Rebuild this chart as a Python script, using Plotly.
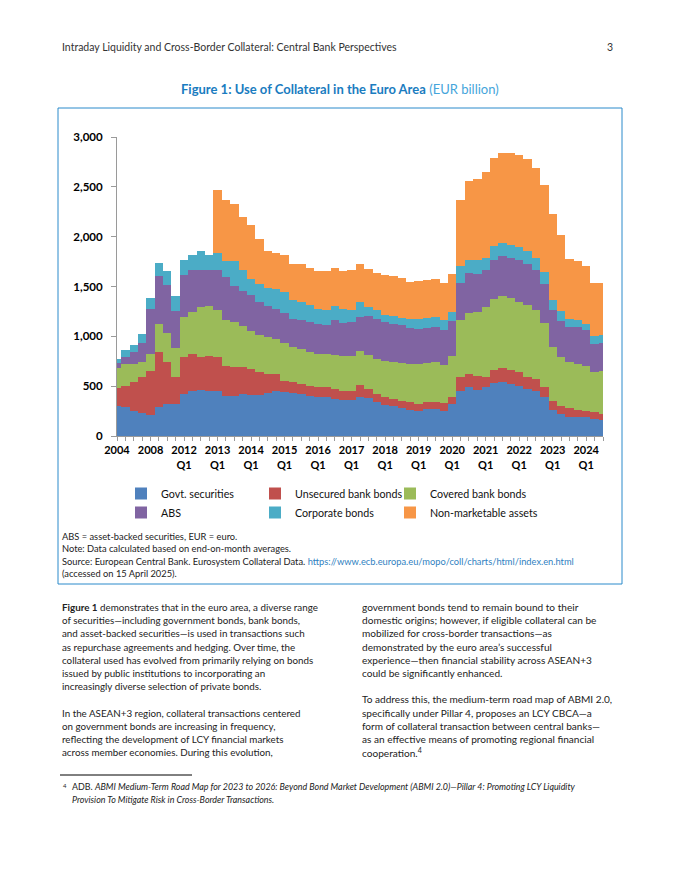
import plotly.graph_objects as go

# ---------------- data ----------------
categories = ["2004", "2005", "2006", "2007", "2008", "2009", "2010", "2011"] + [
    f"{y} Q{q}" for y in range(2012, 2025) for q in range(1, 5)
][:51]

govt = [300, 295, 255, 228, 214, 288, 322, 322,
        422, 456, 462, 456, 449, 399, 399, 422, 415, 412, 429, 449,
        439, 429, 422, 405, 389, 389, 372, 362, 362, 395, 382, 338,
        315, 305, 278, 261, 255, 271, 271, 255, 322, 456, 489, 462,
        489, 533, 539, 523, 506, 472, 449, 389, 261, 221, 194, 188,
        188, 171, 161]
unsecured = [178, 211, 285, 362, 436, 559, 425, 275,
             375, 369, 335, 342, 342, 308, 298, 268, 258, 228, 194, 174,
             117, 111, 101, 101, 101, 101, 101, 94, 94, 114, 90, 84,
             74, 67, 77, 77, 67, 67, 67, 74, 67, 134, 134, 144,
             107, 131, 141, 141, 134, 124, 124, 107, 94, 84, 87, 74,
             67, 67, 60]
covered = [208, 218, 184, 157, 174, 278, 285, 288,
           402, 419, 496, 503, 469, 459, 446, 409, 385, 375, 369, 352,
           375, 352, 352, 335, 335, 328, 335, 342, 342, 348, 345, 352,
           362, 369, 375, 385, 402, 395, 402, 379, 409, 570, 610, 637,
           697, 714, 720, 720, 704, 714, 687, 637, 536, 486, 459, 462,
           452, 402, 436]
abs_sec = [44, 67, 117, 188, 446, 476, 479, 365,
           412, 419, 369, 362, 402, 429, 362, 352, 358, 328, 308, 302,
           302, 285, 291, 302, 302, 291, 352, 335, 345, 342, 392, 402,
           392, 385, 379, 362, 352, 352, 358, 358, 355, 375, 402, 385,
           369, 385, 402, 402, 419, 419, 402, 395, 369, 362, 352, 369,
           352, 285, 275]
corporate = [44, 67, 74, 90, 114, 134, 141, 151,
             157, 157, 191, 151, 174, 157, 248, 211, 161, 184, 188, 201,
             211, 184, 178, 168, 151, 157, 141, 137, 117, 144, 90, 90,
             67, 74, 77, 90, 101, 101, 94, 94, 90, 168, 134, 141,
             124, 141, 134, 127, 134, 127, 127, 117, 101, 97, 84, 74,
             67, 74, 77]
non_marketable = [0, 0, 0, 0, 0, 0, 0, 0,
                  0, 0, 0, 0, 637, 613, 573, 536, 536, 446, 365, 358,
                  369, 362, 379, 379, 375, 385, 385, 385, 402, 379, 372, 372,
                  402, 402, 399, 375, 375, 375, 379, 375, 385, 663, 791, 814,
                  864, 881, 905, 928, 921, 921, 901, 871, 864, 764, 596, 586,
                  576, 536, 526]

series_names = ["Govt. securities", "Unsecured bank bonds", "Covered bank bonds",
                "ABS", "Corporate bonds", "Non-marketable assets"]
series_values = [govt, unsecured, covered, abs_sec, corporate, non_marketable]
series_colors = ["#4F81BD", "#C0504D", "#9BBB59", "#8064A2", "#4BACC6", "#F79646"]
# legend column of each series (3 columns x 2 rows, as in the reference)
series_legend = ["legend", "legend2", "legend3", "legend", "legend2", "legend3"]


def tick_label(c):
    if " " not in c:
        return c if c in ("2004", "2008") else " "
    y, q = c.split(" ")
    return f"{y}<br>{q}" if q == "Q1" else " "


tick_text = [tick_label(c) for c in categories]

# ---------------- layout geometry (page pixels) ----------------
W, H = 680, 880
OFF = 8                      # page body margin of the html page
L, R, T, B = 117, 603, 137, 436
FONT = "Lato"


def fx(x):
    return (x - L) / (R - L)


def fy(y):
    return (B - y) / (B - T)


fig = go.Figure()
for name, vals, col, lg in zip(series_names, series_values, series_colors, series_legend):
    fig.add_trace(go.Bar(x=categories, y=vals, name=name, legend=lg, legendgroup=name,
                         marker=dict(color=col, line=dict(width=0))))

legend_font = dict(family=FONT, size=10.7, color="#111111")
legend_common = dict(orientation="v", yanchor="top", xanchor="left", traceorder="normal",
                     font=legend_font, bgcolor="rgba(0,0,0,0)", tracegroupgap=6)
fig.update_layout(
    width=W, height=H,
    margin=dict(l=L - OFF, r=W - R + OFF, t=T - OFF, b=H - B + OFF, autoexpand=False),
    paper_bgcolor="white", plot_bgcolor="white",
    barmode="stack", bargap=0,
    font=dict(family=FONT, color="#000000"),
    showlegend=True,
    legend=dict(x=fx(121), y=fy(479), **legend_common),
    legend2=dict(x=fx(255), y=fy(479), **legend_common),
    legend3=dict(x=fx(390), y=fy(479), **legend_common),
)
fig.update_xaxes(
    type="category", range=[0, len(categories) - 1],
    tickvals=categories, ticktext=tick_text,
    ticks="outside", ticklen=4, tickcolor="#9a9a9a", tickwidth=1,
    showline=True, linecolor="#9a9a9a", linewidth=1,
    showgrid=False, tickangle=0,
    tickfont=dict(family=FONT, size=11, color="#000000", weight="bold"),
)
fig.update_yaxes(
    range=[0, 3000], dtick=500, tickformat=",",
    ticks="outside", ticklen=5, tickcolor="#9a9a9a",
    showline=True, linecolor="#9a9a9a", linewidth=1,
    showgrid=False, zeroline=False, ticklabelstandoff=6,
    tickfont=dict(family=FONT, size=11.5, color="#000000", weight="bold"),
)

# ---------------- page decorations ----------------
shapes = [
    dict(type="rect", xref="paper", yref="paper", x0=fx(58), x1=fx(622), y0=fy(108), y1=fy(584),
         line=dict(color="#2B8ACB", width=1), fillcolor="rgba(0,0,0,0)", layer="below"),
    dict(type="line", xref="paper", yref="paper", x0=fx(60), x1=fx(192), y0=fy(775), y1=fy(775),
         line=dict(color="#000000", width=1)),
]
fig.update_layout(shapes=shapes)


def txt(x, y, s, size=11, color="#222222", anchor="left"):
    fig.add_annotation(x=fx(x), y=fy(y), xref="paper", yref="paper", text=s, showarrow=False,
                       xanchor=anchor, yanchor="middle", align=anchor,
                       font=dict(family=FONT, size=size, color=color))


txt(60, 47, "Intraday Liquidity and Cross-Border Collateral: Central Bank Perspectives", 10.5, "#333333")
txt(615, 47, "3", 10.5, "#333333", "right")
txt(340, 89, "<b>Figure 1: Use of Collateral in the Euro Area</b> "
             "<span style='color:#45A5DB'>(EUR billion)</span>", 13, "#1A7CC0", "center")

note_lines = [
    "ABS = asset-backed securities, EUR = euro.",
    "Note: Data calculated based on end-on-month averages.",
    "Source: European Central Bank. Eurosystem Collateral Data. "
    "<span style='color:#2F7FC1'>https://www.ecb.europa.eu/mopo/coll/charts/html/index.en.html</span>",
    "(accessed on 15 April 2025).",
]
for i, s in enumerate(note_lines):
    txt(60, 536 + i * 12.6, s, 9.3, "#222222")

left_col = [
    "<b>Figure 1</b> demonstrates that in the euro area, a diverse range",
    "of securities—including government bonds, bank bonds,",
    "and asset-backed securities—is used in transactions such",
    "as repurchase agreements and hedging. Over time, the",
    "collateral used has evolved from primarily relying on bonds",
    "issued by public institutions to incorporating an",
    "increasingly diverse selection of private bonds.",
    "",
    "In the ASEAN+3 region, collateral transactions centered",
    "on government bonds are increasing in frequency,",
    "reflecting the development of LCY financial markets",
    "across member economies. During this evolution,",
]
right_col = [
    "government bonds tend to remain bound to their",
    "domestic origins; however, if eligible collateral can be",
    "mobilized for cross-border transactions—as",
    "demonstrated by the euro area’s successful",
    "experience—then financial stability across ASEAN+3",
    "could be significantly enhanced.",
    "",
    "To address this, the medium-term road map of ABMI 2.0,",
    "specifically under Pillar 4, proposes an LCY CBCA—a",
    "form of collateral transaction between central banks—",
    "as an effective means of promoting regional financial",
    "cooperation.<sup>4</sup>",
]
for i, s in enumerate(left_col):
    if s:
        txt(60, 607 + i * 13.2, s, 9.8, "#222222")
for i, s in enumerate(right_col):
    if s:
        txt(360, 607 + i * 13.2, s, 10.1, "#222222")

txt(61, 785, "<sup>4</sup>", 8.5, "#222222")
txt(70, 786, "ADB. <i>ABMI Medium-Term Road Map for 2023 to 2026: Beyond Bond Market Development "
             "(ABMI 2.0)—Pillar 4: Promoting LCY Liquidity</i>", 8.9, "#222222")
txt(70, 799, "<i>Provision To Mitigate Risk in Cross-Border Transactions.</i>", 8.9, "#222222")

fig.write_html("out.html")
